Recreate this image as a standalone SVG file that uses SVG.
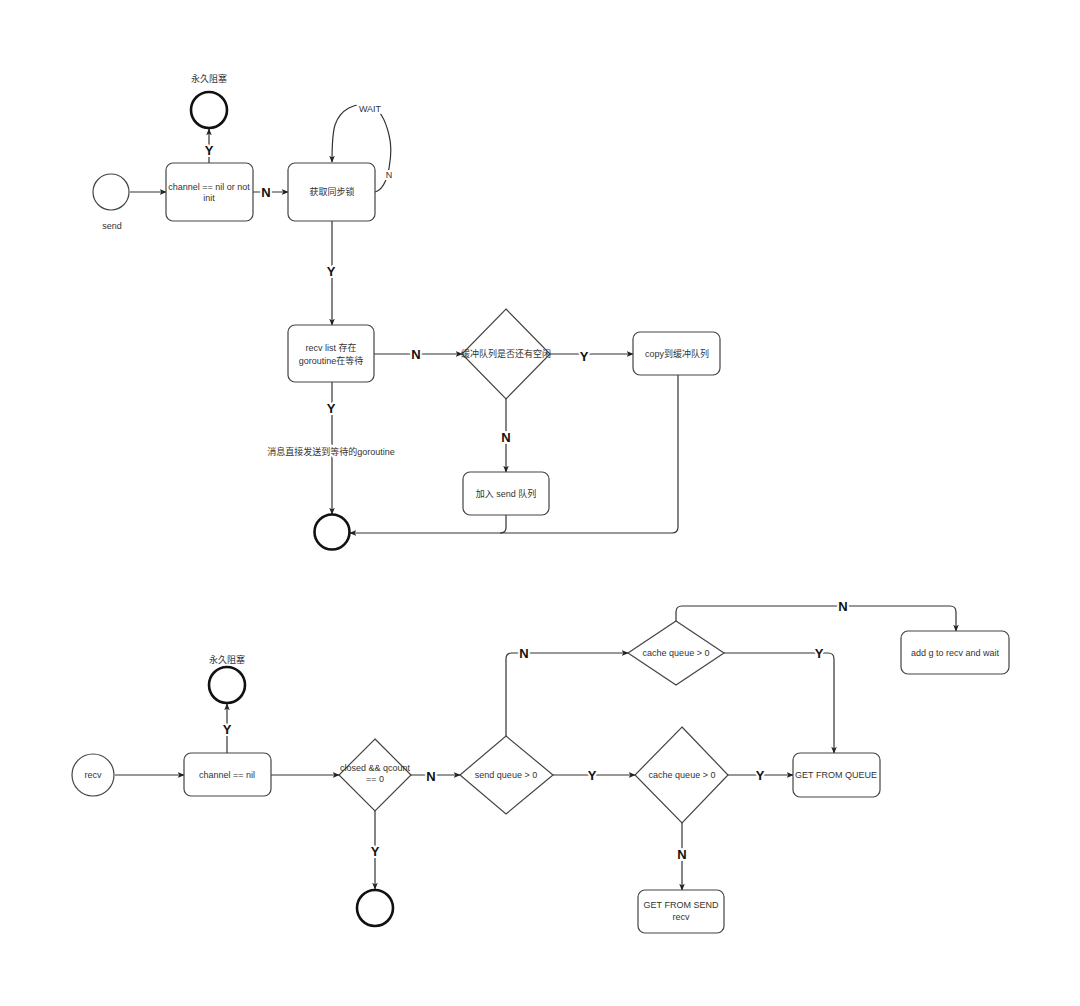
<svg xmlns="http://www.w3.org/2000/svg" width="1080" height="1006" viewBox="0 0 1080 1006">
<defs>
<marker id="arr" viewBox="0 0 10 10" refX="9" refY="5" markerWidth="7" markerHeight="7" orient="auto" markerUnits="userSpaceOnUse">
<path d="M0,1 L10,5 L0,9 L2.5,5 Z" fill="#222"/>
</marker>
</defs>
<style>
.node{fill:#fff;stroke:#444;stroke-width:1.2}
.start{fill:#fff;stroke:#444;stroke-width:1.2}
.end{fill:#fff;stroke:#111;stroke-width:2.6}
.t{font-family:"Liberation Sans","Noto Sans CJK SC",sans-serif;font-size:9px;fill:#333;text-anchor:middle}
.e{fill:none;stroke:#333;stroke-width:1.2}
.a{marker-end:url(#arr)}
.lb{font-family:"Liberation Sans",Arial,sans-serif;font-size:13px;font-weight:bold;fill:#111;text-anchor:middle;paint-order:stroke;stroke:#fff;stroke-width:4px}
.ll{font-family:"Liberation Sans","Noto Sans CJK SC",sans-serif;font-size:9px;fill:#333;text-anchor:middle;paint-order:stroke;stroke:#fff;stroke-width:4px}
</style>
<rect width="1080" height="1006" fill="#fff"/>

<g id="connectors">
<!-- top section -->
<path class="e a" d="M130,192 L166,192"/>
<path class="e a" d="M209,163 L209,129"/>
<path class="e a" d="M253,192 L288,192"/>
<path class="e a" d="M375,192 C390,188 393,150 389,135 C385,118 378,108 370,106 C355,101 340,110 335,125 C332,135 332,150 332,162"/>
<path class="e a" d="M332,221 L332,325"/>
<path class="e a" d="M374,354 L462,354"/>
<path class="e a" d="M550,354 L633,354"/>
<path class="e a" d="M506,399 L506,472"/>
<path class="e a" d="M332,382 L332,514"/>
<path class="e a" d="M678,375 L678,527 Q678,533 672,533 L350,533"/>
<path class="e" d="M506,515 L506,528 Q506,533 500,533"/>
<!-- bottom section -->
<path class="e a" d="M115,775 L184,775"/>
<path class="e a" d="M227,753 L227,704"/>
<path class="e a" d="M271,775 L339,775"/>
<path class="e a" d="M411,775 L460,775"/>
<path class="e a" d="M375,811 L375,889"/>
<path class="e a" d="M553,775 L635,775"/>
<path class="e a" d="M728,775 L793,775"/>
<path class="e a" d="M682,823 L682,890"/>
<path class="e a" d="M506,736 L506,659 Q506,653 512,653 L628,653"/>
<path class="e a" d="M724,653 L828,653 Q834,653 834,659 L834,753"/>
<path class="e a" d="M676,621 L676,612 Q676,606 682,606 L950,606 Q956,606 956,612 L956,631"/>
<!-- labels -->
<text class="lb" x="209" y="155">Y</text>
<text class="lb" x="266" y="197">N</text>
<text class="ll" x="370" y="112">WAIT</text>
<text class="ll" x="389" y="178">N</text>
<text class="lb" x="331" y="276">Y</text>
<text class="lb" x="416" y="359">N</text>
<text class="lb" x="584" y="361">Y</text>
<text class="lb" x="506" y="442">N</text>
<text class="lb" x="331" y="413">Y</text>
<text class="ll" x="331" y="455">消息直接发送到等待的goroutine</text>
<text class="lb" x="227" y="734">Y</text>
<text class="lb" x="431" y="781">N</text>
<text class="lb" x="375" y="856">Y</text>
<text class="lb" x="592" y="780">Y</text>
<text class="lb" x="760" y="780">Y</text>
<text class="lb" x="682" y="859">N</text>
<text class="lb" x="524" y="658">N</text>
<text class="lb" x="819" y="658">Y</text>
<text class="lb" x="843" y="611">N</text>
</g>

<!-- top section nodes -->
<g id="send">
<circle class="start" cx="111" cy="192" r="18"/>
<text class="t" x="112" y="229">send</text>
</g>
<g id="block1">
<circle class="end" cx="209" cy="110" r="18"/>
<text class="t" x="209" y="82">永久阻塞</text>
</g>
<g id="check-nil">
<rect class="node" x="166" y="163" width="87" height="58" rx="7"/>
<text class="t" x="209" y="190">channel == nil or not</text>
<text class="t" x="209" y="201">init</text>
</g>
<g id="lock">
<rect class="node" x="288" y="163" width="87" height="58" rx="7"/>
<text class="t" x="332" y="195">获取同步锁</text>
</g>
<g id="recv-list">
<rect class="node" x="288" y="325" width="86" height="57" rx="7"/>
<text class="t" x="331" y="351">recv list 存在</text>
<text class="t" x="331" y="364">goroutine在等待</text>
</g>
<g id="buffer-free">
<polygon class="node" points="506,309 550,354 506,399 462,354"/>
<text class="t" x="506" y="357">缓冲队列是否还有空闲</text>
</g>
<g id="copy">
<rect class="node" x="633" y="332" width="87" height="43" rx="7"/>
<text class="t" x="677" y="357">copy到缓冲队列</text>
</g>
<g id="add-send">
<rect class="node" x="463" y="472" width="86" height="43" rx="7"/>
<text class="t" x="506" y="497">加入 send 队列</text>
</g>
<g id="end1">
<circle class="end" cx="332" cy="532" r="17.5"/>
</g>

<!-- bottom section nodes -->
<g id="recv">
<circle class="start" cx="93" cy="775" r="21"/>
<text class="t" x="93" y="778">recv</text>
</g>
<g id="block2">
<circle class="end" cx="227" cy="685" r="18"/>
<text class="t" x="227" y="663">永久阻塞</text>
</g>
<g id="chan-nil">
<rect class="node" x="184" y="753" width="87" height="43" rx="7"/>
<text class="t" x="227" y="778">channel == nil</text>
</g>
<g id="closed">
<polygon class="node" points="375,739 411,775 375,811 339,775"/>
<text class="t" x="375" y="771">closed &amp;&amp; qcount</text>
<text class="t" x="375" y="782">== 0</text>
</g>
<g id="end2">
<circle class="end" cx="375" cy="908" r="18"/>
</g>
<g id="send-queue">
<polygon class="node" points="506,736 553,775 506,814 460,775"/>
<text class="t" x="506" y="778">send queue &gt; 0</text>
</g>
<g id="cache-queue-low">
<polygon class="node" points="682,727 728,775 682,823 635,775"/>
<text class="t" x="682" y="778">cache queue &gt; 0</text>
</g>
<g id="cache-queue-up">
<polygon class="node" points="676,621 724,653 676,685 628,653"/>
<text class="t" x="676" y="656">cache queue &gt; 0</text>
</g>
<g id="get-queue">
<rect class="node" x="793" y="753" width="87" height="44" rx="7"/>
<text class="t" x="836" y="778">GET FROM QUEUE</text>
</g>
<g id="get-send">
<rect class="node" x="638" y="890" width="86" height="43" rx="7"/>
<text class="t" x="681" y="908">GET FROM SEND</text>
<text class="t" x="681" y="920">recv</text>
</g>
<g id="add-g">
<rect class="node" x="901" y="631" width="108" height="43" rx="7"/>
<text class="t" x="955" y="656">add g to recv and wait</text>
</g>
</svg>
